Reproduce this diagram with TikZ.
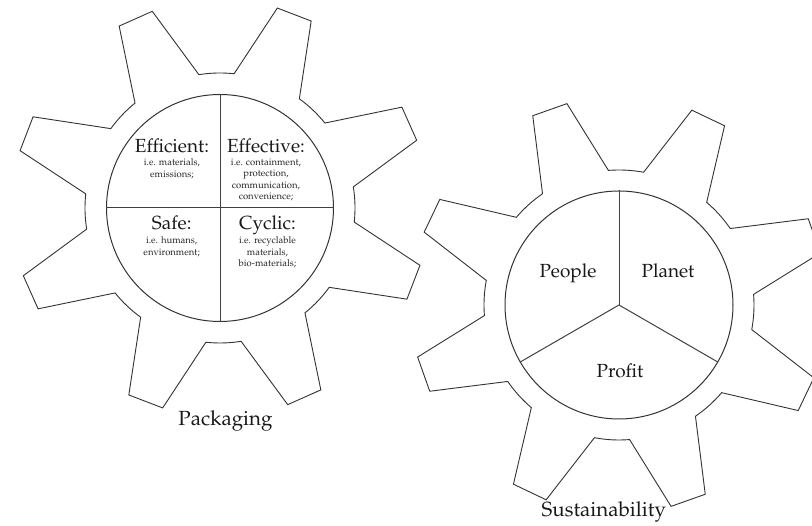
\documentclass[tikz,border=0pt]{standalone}
\usepackage[T1]{fontenc}
\usepackage{mathpazo}
\usetikzlibrary{positioning,calc}

\tikzset{
	gear/.style  = {draw=black!80, line width=0.9pt, line join=miter},
	hub/.style   = {circle, draw=black!80, line width=1pt, inner sep=0pt, minimum size=#1},
	spoke/.style = {draw=black!75, line width=1pt},
	head/.style  = {inner sep=0pt, anchor=base, font=\fontsize{19}{21}\selectfont, text=black!90},
	note/.style  = {inner sep=0pt, align=center, font=\fontsize{9.5}{11.3}\selectfont, text=black!85},
	label/.style = {inner sep=0pt, anchor=base, font=\fontsize{19}{21}\selectfont, text=black!90},
	title/.style = {inner sep=0pt, anchor=base, font=\fontsize{20.5}{22}\selectfont, text=black!90},
}

% eight teeth round a centre, #2 = angle of the first tooth
\newcommand{\cogwheel}[2]{%
	\begin{scope}[shift={(#1)}]
		\draw[gear] ({#2-15}:135) \foreach \t in {0,45,...,315}{
				-- ({#2+\t-5}:208) -- ({#2+\t+5}:208) -- ({#2+\t+15}:135)
				arc[start angle=#2+\t+15, delta angle=15, radius=135]} -- cycle;
	\end{scope}}

\begin{document}
\begin{tikzpicture}[x=1pt, y=1pt]
	\useasboundingbox (0,0) rectangle (812,526);
	\clip (0,0) rectangle (812,526);

	\coordinate (pc) at (220,318);
	\coordinate (sc) at (619,221);

	\cogwheel{pc}{24}
	\cogwheel{sc}{19.5}

	% packaging hub, four quarters
	\node[hub=227pt] (pack) at (pc) {};
	\draw[spoke] (pack.north) -- (pack.south);
	\draw[spoke] (pack.west)  -- (pack.east);

	\node[head] (eff) at (172,373.7) {Efficient:};
	\node[note, below=6.4pt of eff.base] (effn) {i.e. materials,\\emissions;};
	\node[head] (efv) at (266,373.7) {Effective:};
	\node[note, below=6.4pt of efv.base] (efvn) {i.e. containment,\\protection,\\communication,\\convenience;};
	\node[head] (safe) at (171.7,296.7) {Safe:};
	\node[note, below=7.4pt of safe.base] (safen) {i.e. humans,\\environment;};
	\node[head] (cyc) at (267.5,296.7) {Cyclic:};
	\node[note, below=7.4pt of cyc.base] (cycn) {i.e. recyclable\\materials,\\bio-materials;};

	\node[title] (packt) at (225.5,100) {Packaging};

	% sustainability hub, three parts
	\node[hub=228pt] (sust) at (sc) {};
	\draw[spoke] (sust.center) -- (sust.north);
	\draw[spoke] (sust.center) -- (sust.210);
	\draw[spoke] (sust.center) -- (sust.330);

	\node[label] (people) at (568,248) {People};
	\node[label] (planet) at (668,248.7) {Planet};
	\node[label] (profit) at (620,148.7) {Profit};

	\node[title] (sustt) at (603.8,9.3) {Sustainability};
\end{tikzpicture}
\end{document}
